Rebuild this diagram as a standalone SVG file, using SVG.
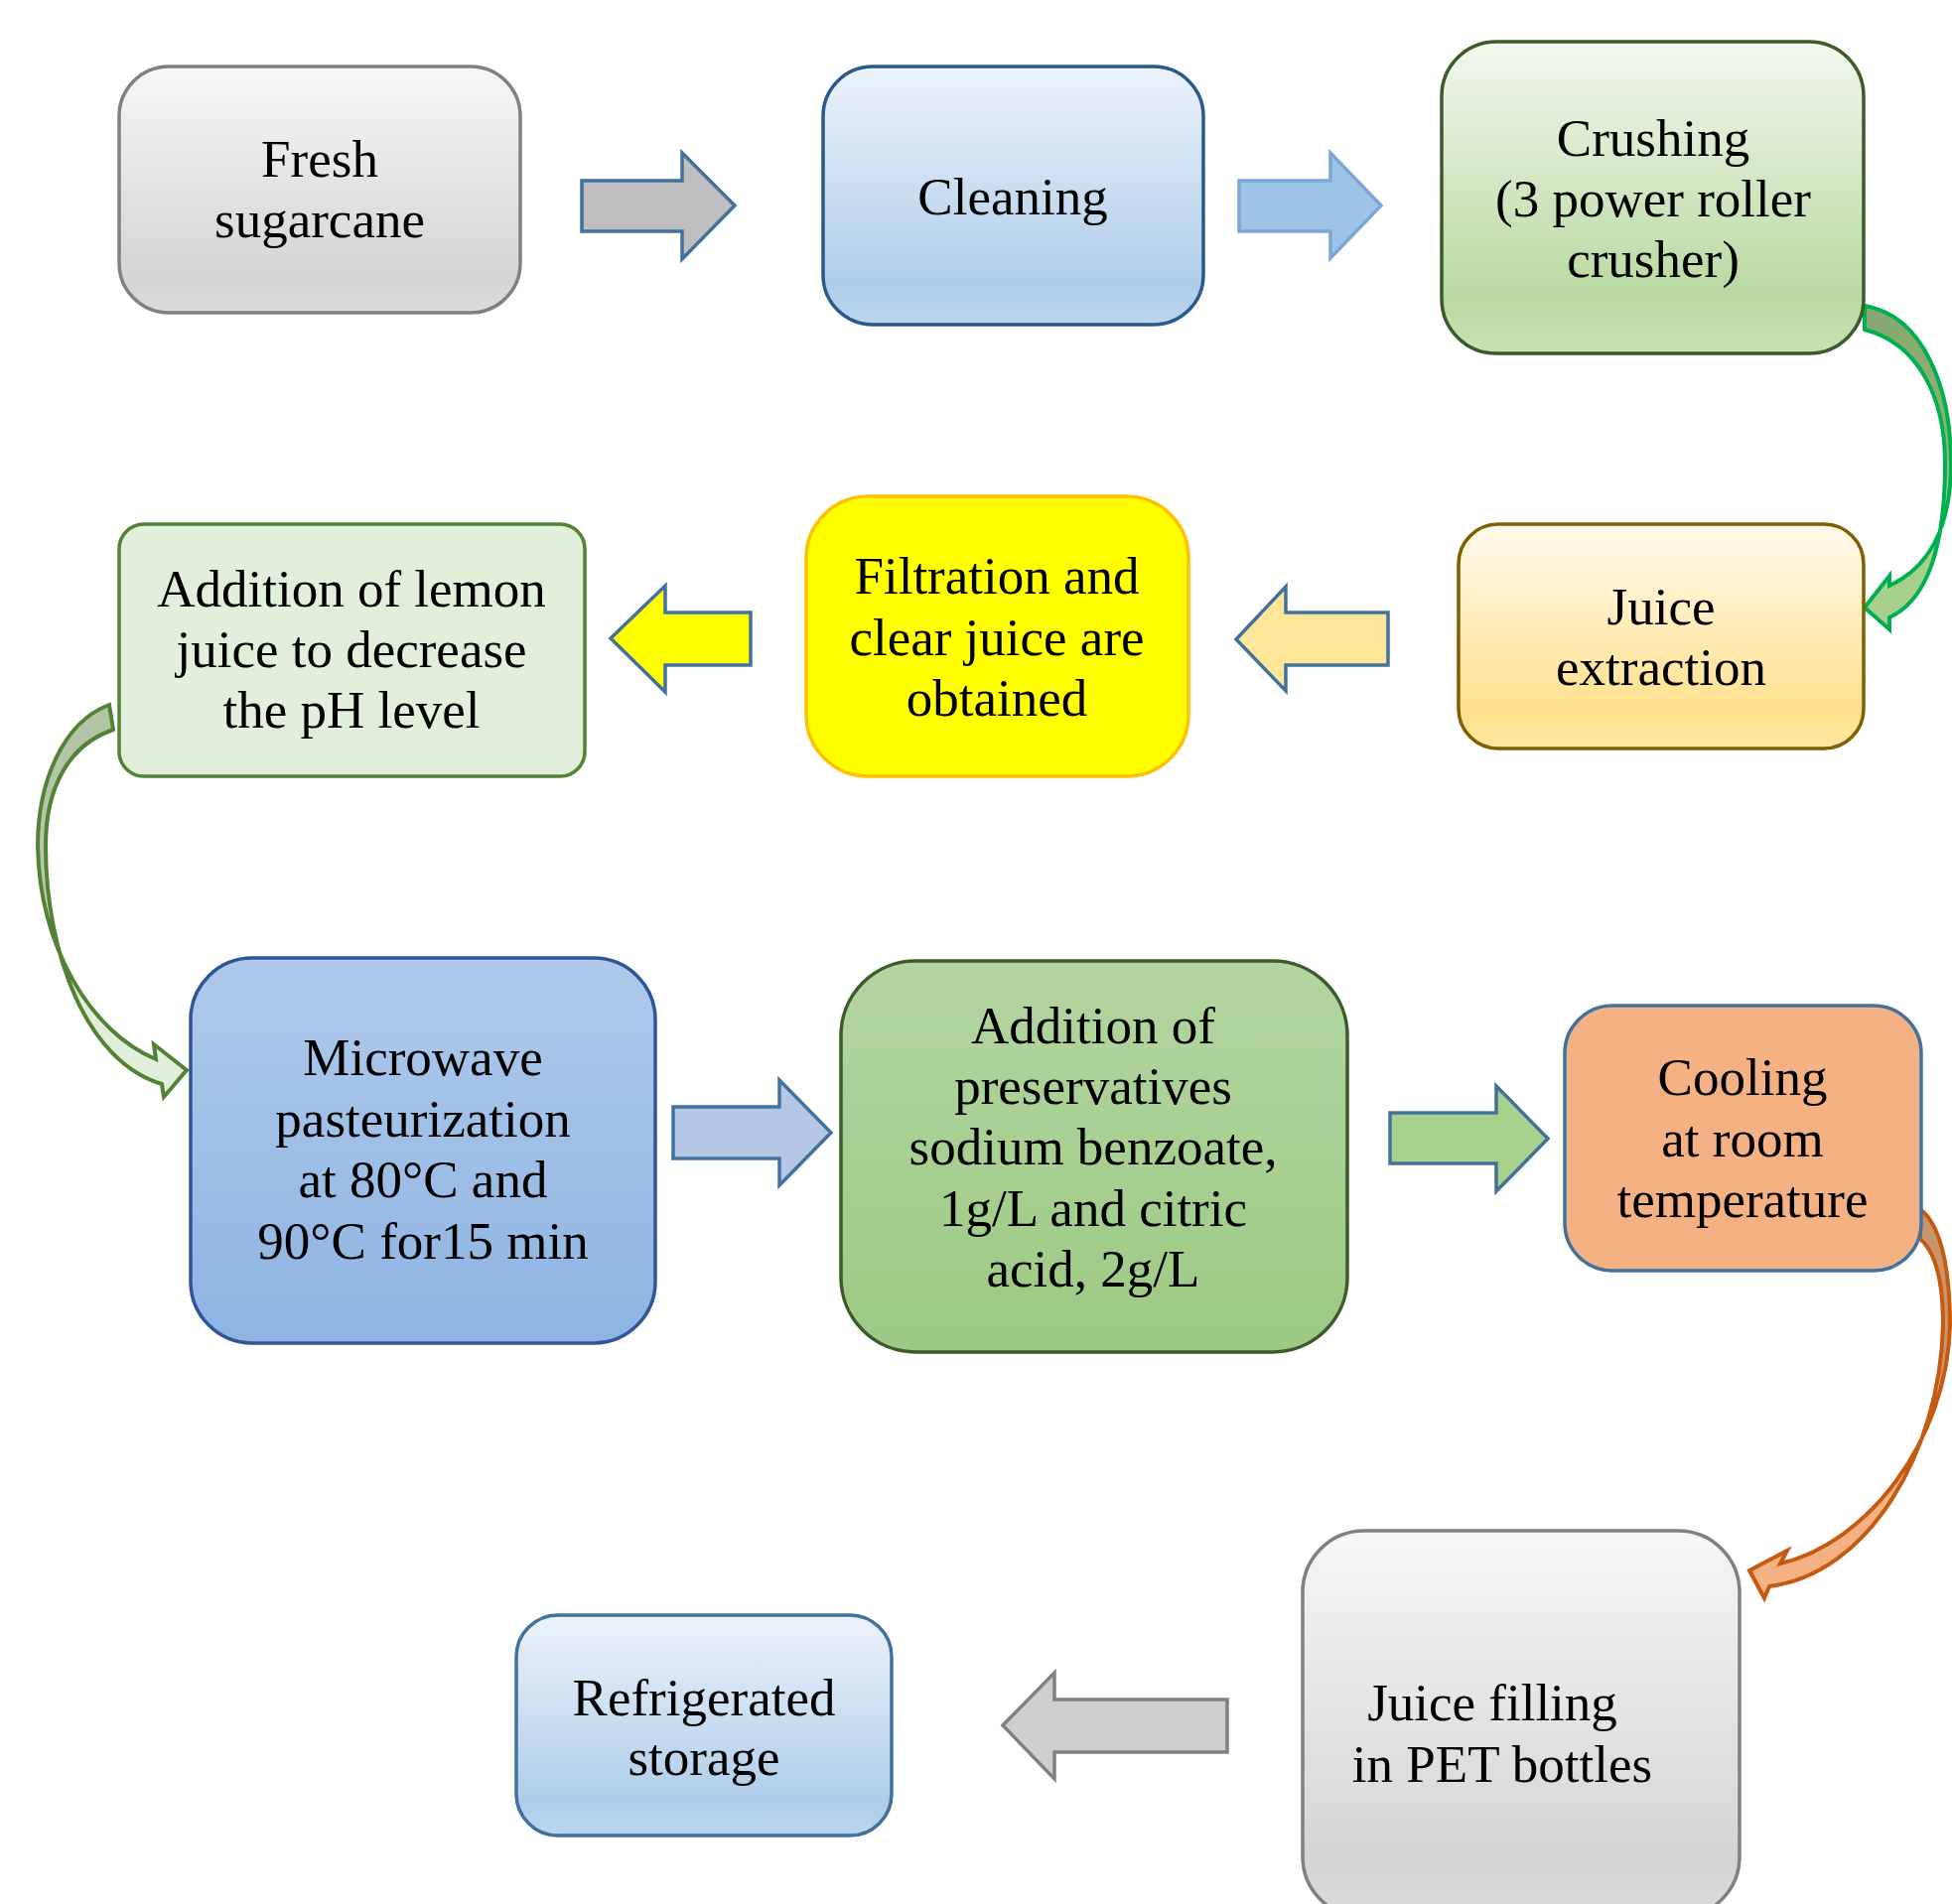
<svg xmlns="http://www.w3.org/2000/svg" width="1966" height="1918" viewBox="0 0 1966 1918">
<defs>
<linearGradient id="gGray" x1="0" y1="0" x2="0" y2="1"><stop offset="0" stop-color="#f7f7f7"/><stop offset="0.85" stop-color="#d5d5d5"/><stop offset="1" stop-color="#dcdcdc"/></linearGradient>
<linearGradient id="gBlue" x1="0" y1="0" x2="0" y2="1"><stop offset="0" stop-color="#edf3fb"/><stop offset="0.85" stop-color="#afcdea"/><stop offset="1" stop-color="#bcd6ee"/></linearGradient>
<linearGradient id="gGreen" x1="0" y1="0" x2="0" y2="1"><stop offset="0" stop-color="#f3f8ef"/><stop offset="0.82" stop-color="#b9d9a1"/><stop offset="1" stop-color="#c9e2b6"/></linearGradient>
<linearGradient id="gYellow" x1="0" y1="0" x2="0" y2="1"><stop offset="0" stop-color="#fffaee"/><stop offset="0.85" stop-color="#ffe08c"/><stop offset="1" stop-color="#ffe8a6"/></linearGradient>
<linearGradient id="gMw" x1="0" y1="0" x2="0" y2="1"><stop offset="0" stop-color="#afcaec"/><stop offset="1" stop-color="#8eb4e2"/></linearGradient>
<linearGradient id="gPres" x1="0" y1="0" x2="0" y2="1"><stop offset="0" stop-color="#b3d5a1"/><stop offset="1" stop-color="#9cca83"/></linearGradient>
<linearGradient id="cGreen" x1="0" y1="0" x2="0" y2="1"><stop offset="0" stop-color="#86a86e"/><stop offset="0.45" stop-color="#8fb274"/><stop offset="0.6" stop-color="#a8d08d"/><stop offset="1" stop-color="#a8d08d"/></linearGradient>
<linearGradient id="cLemon" x1="0" y1="0" x2="0" y2="1"><stop offset="0" stop-color="#b2c4a6"/><stop offset="0.45" stop-color="#b8c9ac"/><stop offset="0.6" stop-color="#e2efda"/><stop offset="1" stop-color="#e2efda"/></linearGradient>
<linearGradient id="cOrange" x1="0" y1="0" x2="0" y2="1"><stop offset="0" stop-color="#c8946a"/><stop offset="0.4" stop-color="#cc9670"/><stop offset="0.6" stop-color="#f4b183"/><stop offset="1" stop-color="#f4b183"/></linearGradient>
</defs>
<style>
text{font-family:"Liberation Serif","Times New Roman",serif;font-size:53px;fill:#000;text-anchor:middle}
.box{stroke-width:3.5}
.arr{stroke:#41719c;stroke-width:3.5;stroke-linejoin:miter}
</style>
<rect width="1966" height="1918" fill="#ffffff"/>

<g id="connectors">
<path id="a1" class="arr" fill="#bfbfbf" d="M586,182 L687,182 L687,154 L740,207 L687,261 L687,233 L586,233 Z"/>
<path id="a2" class="arr" fill="#9dc3e6" stroke="#7ba7d7" style="stroke:#7ba7d7" d="M1248,182 L1340,182 L1340,154 L1391,207 L1340,260 L1340,233 L1248,233 Z"/>
<path id="a3" fill="url(#cGreen)" stroke="#00b050" stroke-width="4" stroke-linejoin="miter" d="M1878,308 C1938,318 1965,392 1965,467 C1965,532 1942,572 1903,590 L1903,580 L1878,612 L1903,634 L1903,622 C1946,602 1959,540 1959,467 C1959,400 1932,346 1878,332 Z"/>
<path id="a4" class="arr" fill="#ffe699" d="M1398,617 L1295,617 L1295,591 L1245,644 L1295,696 L1295,670 L1398,670 Z"/>
<path id="a5" class="arr" fill="#ffff00" d="M756,617 L670,617 L670,590 L615,643 L670,697 L670,670 L756,670 Z"/>
<path id="a6" fill="url(#cLemon)" stroke="#548235" stroke-width="4" stroke-linejoin="miter" d="M110,710 C62,728 38,790 38,852 C40,955 92,1040 157,1067 L155,1052 L188,1078 L165,1105 L163,1092 C88,1070 46,962 46,852 C46,792 70,750 114,735 Z"/>
<path id="a7" class="arr" fill="#b4c7e7" d="M678,1115 L785,1115 L785,1088 L837,1141 L785,1194 L785,1167 L678,1167 Z"/>
<path id="a8" class="arr" fill="#a9d18e" d="M1400,1121 L1507,1121 L1507,1094 L1559,1147 L1507,1200 L1507,1172 L1400,1172 Z"/>
<path id="a9" fill="url(#cOrange)" stroke="#c55a11" stroke-width="4" stroke-linejoin="miter" d="M1934,1218 C1958,1236 1964,1290 1964,1335 C1961,1452 1880,1555 1793,1575 L1800,1562 L1762,1582 L1777,1610 L1782,1598 C1882,1586 1954,1462 1957,1335 C1957,1292 1950,1262 1934,1248 Z"/>
<path id="a10" fill="#d0cece" stroke="#808080" stroke-width="3.5" d="M1236,1712 L1062,1712 L1062,1685 L1010,1738 L1062,1792 L1062,1765 L1236,1765 Z"/>
</g>

<g id="n1"><rect class="box" x="120" y="67" width="404" height="248" rx="50" fill="url(#gGray)" stroke="#808080"/><text x="322" y="178">Fresh</text><text x="322" y="239">sugarcane</text></g>
<g id="n2"><rect class="box" x="829" y="67" width="383" height="260" rx="50" fill="url(#gBlue)" stroke="#2a5a8c"/><text x="1020" y="216">Cleaning</text></g>
<g id="n3"><rect class="box" x="1452" y="42" width="425" height="314" rx="55" fill="url(#gGreen)" stroke="#3d5a2a"/><text x="1665" y="157">Crushing</text><text x="1665" y="218">(3 power roller</text><text x="1665" y="279">crusher)</text></g>
<g id="n4"><rect class="box" x="1469" y="528" width="408" height="226" rx="40" fill="url(#gYellow)" stroke="#7f6000"/><text x="1673" y="629">Juice</text><text x="1673" y="690">extraction</text></g>
<g id="n5"><rect class="box" x="812" y="500" width="385" height="282" rx="62" fill="#ffff00" stroke="#ffc000"/><text x="1004" y="598">Filtration and</text><text x="1004" y="660">clear juice are</text><text x="1004" y="721">obtained</text></g>
<g id="n6"><rect class="box" x="120" y="528" width="469" height="254" rx="25" fill="#e2efda" stroke="#548235"/><text x="354" y="611">Addition of lemon</text><text x="354" y="672">juice to decrease</text><text x="354" y="733">the pH level</text></g>
<g id="n7"><rect class="box" x="192" y="965" width="468" height="388" rx="62" fill="url(#gMw)" stroke="#2f5597"/><text x="426" y="1083">Microwave</text><text x="426" y="1145">pasteurization</text><text x="426" y="1206">at 80°C and</text><text x="426" y="1268">90°C for15 min</text></g>
<g id="n8"><rect class="box" x="847" y="968" width="510" height="394" rx="75" fill="url(#gPres)" stroke="#3d5a2a"/><text x="1101" y="1051">Addition of</text><text x="1101" y="1112">preservatives</text><text x="1101" y="1173">sodium benzoate,</text><text x="1101" y="1235">1g/L and citric</text><text x="1101" y="1296">acid, 2g/L</text></g>
<g id="n9"><rect class="box" x="1576" y="1013" width="359" height="267" rx="48" fill="#f4b183" stroke="#41719c"/><text x="1755" y="1103">Cooling</text><text x="1755" y="1165">at room</text><text x="1755" y="1226">temperature</text></g>
<g id="n10"><rect class="box" x="1312" y="1542" width="440" height="390" rx="62" fill="url(#gGray)" stroke="#808080"/><text x="1503" y="1733">Juice filling</text><text x="1513" y="1795">in PET bottles</text></g>
<g id="n11"><rect class="box" x="520" y="1627" width="378" height="222" rx="42" fill="url(#gBlue)" stroke="#41719c"/><text x="709" y="1728">Refrigerated</text><text x="709" y="1788">storage</text></g>
</svg>
